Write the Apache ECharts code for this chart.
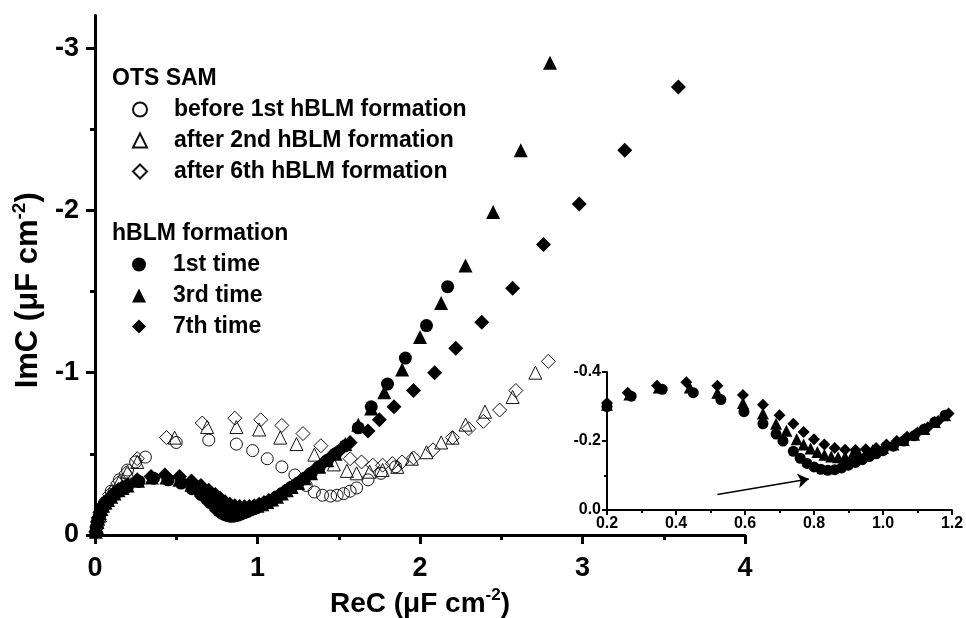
<!DOCTYPE html>
<html>
<head>
<meta charset="utf-8">
<script src="https://cdn.jsdelivr.net/npm/echarts@6/dist/echarts.min.js"></script>
<style>
html, body { margin: 0; padding: 0; background: #fff; }
#main { width: 966px; height: 618px; }
</style>
</head>
<body>
<div id="main"></div>
<script>
// OTS SAM (open symbols)
var reBefore1st = [0.01,0.03,0.06,0.10,0.15,0.20,0.25,0.31,0.50,0.70,0.87,0.97,1.06,1.15,1.23,1.30,1.35,1.40,1.45,1.49,1.53,1.57,1.61,1.68,1.76,1.85];
var imBefore1st = [-0.05,-0.12,-0.20,-0.27,-0.34,-0.40,-0.45,-0.48,-0.57,-0.585,-0.56,-0.52,-0.47,-0.42,-0.37,-0.305,-0.265,-0.245,-0.24,-0.245,-0.255,-0.27,-0.29,-0.34,-0.38,-0.42];
var reAfter2nd = [0.01,0.03,0.06,0.10,0.15,0.20,0.26,0.49,0.69,0.87,1.01,1.14,1.24,1.35,1.47,1.55,1.61,1.69,1.77,1.86,1.95,2.04,2.13,2.20,2.28,2.40,2.57,2.71];
var imAfter2nd = [-0.05,-0.12,-0.20,-0.27,-0.33,-0.39,-0.45,-0.60,-0.665,-0.665,-0.65,-0.60,-0.56,-0.495,-0.435,-0.395,-0.38,-0.39,-0.40,-0.42,-0.47,-0.51,-0.57,-0.60,-0.68,-0.76,-0.85,-1.00];
var reAfter6th = [0.02,0.05,0.09,0.14,0.19,0.26,0.44,0.66,0.86,1.02,1.15,1.28,1.39,1.49,1.57,1.64,1.71,1.77,1.83,1.89,1.96,2.08,2.20,2.30,2.39,2.49,2.59,2.79];
var imAfter6th = [-0.08,-0.17,-0.25,-0.32,-0.38,-0.47,-0.60,-0.69,-0.72,-0.71,-0.675,-0.625,-0.55,-0.51,-0.47,-0.45,-0.43,-0.43,-0.44,-0.45,-0.475,-0.525,-0.60,-0.655,-0.70,-0.77,-0.89,-1.07];

// hBLM formation (filled symbols)
var re1st = [0.005,0.01,0.015,0.02,0.03,0.04,0.05,0.065,0.08,0.10,0.12,0.145,0.17,0.20,0.27,0.36,0.45,0.53,0.597,0.652,0.69,0.71,0.74,0.76,0.78,0.80,0.82,0.84,0.86,0.88,0.90,0.92,0.94,0.96,0.98,1.00,1.03,1.06,1.09,1.12,1.15,1.18,1.21,1.25,1.29,1.33,1.38,1.43,1.48,1.54,1.62,1.70,1.80,1.91,2.04,2.17];
var im1st = [-0.02,-0.05,-0.08,-0.10,-0.13,-0.155,-0.175,-0.195,-0.21,-0.23,-0.25,-0.27,-0.285,-0.30,-0.33,-0.35,-0.34,-0.32,-0.285,-0.25,-0.22,-0.20,-0.17,-0.15,-0.135,-0.125,-0.118,-0.115,-0.117,-0.122,-0.13,-0.138,-0.146,-0.155,-0.163,-0.172,-0.185,-0.20,-0.215,-0.235,-0.255,-0.275,-0.295,-0.32,-0.35,-0.38,-0.42,-0.46,-0.50,-0.55,-0.66,-0.79,-0.93,-1.09,-1.29,-1.53];
var re3rd = [0.005,0.01,0.015,0.02,0.03,0.04,0.05,0.065,0.08,0.10,0.12,0.145,0.17,0.20,0.265,0.35,0.44,0.52,0.594,0.652,0.69,0.72,0.75,0.77,0.79,0.81,0.83,0.85,0.87,0.89,0.91,0.93,0.95,0.97,1.00,1.03,1.06,1.09,1.12,1.15,1.18,1.21,1.25,1.29,1.33,1.38,1.43,1.48,1.54,1.62,1.70,1.78,1.89,2.00,2.13,2.28,2.45,2.62,2.80];
var im3rd = [-0.02,-0.05,-0.08,-0.10,-0.135,-0.16,-0.18,-0.20,-0.215,-0.235,-0.255,-0.275,-0.29,-0.305,-0.335,-0.355,-0.355,-0.34,-0.31,-0.28,-0.25,-0.23,-0.205,-0.19,-0.178,-0.168,-0.16,-0.155,-0.153,-0.154,-0.157,-0.162,-0.167,-0.173,-0.18,-0.19,-0.203,-0.218,-0.235,-0.255,-0.275,-0.295,-0.32,-0.35,-0.38,-0.42,-0.46,-0.50,-0.56,-0.68,-0.78,-0.88,-1.02,-1.22,-1.43,-1.66,-1.99,-2.37,-2.91];
var re7th = [0.005,0.01,0.015,0.02,0.03,0.04,0.05,0.065,0.08,0.10,0.12,0.145,0.17,0.20,0.26,0.345,0.43,0.52,0.594,0.652,0.70,0.74,0.77,0.80,0.83,0.86,0.89,0.92,0.95,0.98,1.01,1.04,1.07,1.10,1.13,1.16,1.19,1.22,1.26,1.30,1.35,1.40,1.45,1.50,1.57,1.68,1.75,1.84,1.96,2.09,2.22,2.38,2.57,2.76,2.98,3.26,3.59];
var im7th = [-0.02,-0.05,-0.08,-0.105,-0.14,-0.165,-0.185,-0.205,-0.22,-0.24,-0.26,-0.28,-0.295,-0.31,-0.34,-0.36,-0.37,-0.36,-0.333,-0.305,-0.275,-0.25,-0.226,-0.205,-0.19,-0.18,-0.175,-0.174,-0.176,-0.18,-0.19,-0.20,-0.212,-0.225,-0.24,-0.258,-0.28,-0.30,-0.33,-0.36,-0.40,-0.44,-0.48,-0.515,-0.57,-0.64,-0.71,-0.79,-0.89,-1.00,-1.15,-1.31,-1.52,-1.79,-2.04,-2.37,-2.76];

var mainXMinor = [0.5, 1.5, 2.5, 3.5];
var mainYTicks = [-3, -2, -1, 0];
var mainYMinor = [-2.5, -1.5, -0.5];
var arrowFrom = [0.52, -0.045];
var arrowTo = [0.785, -0.09];

function pairs(xs, ys) {
    return xs.map(function (x, i) { return [x, ys[i]]; });
}

var font = 'Liberation Sans, Arial, sans-serif';
var openStyle = { color: 'transparent', borderColor: '#111', borderWidth: 1, opacity: 1 };
var fillStyle = { color: '#000', opacity: 1 };
var legendText = { fontSize: 23, fontWeight: 'bold', color: '#000', fontFamily: font, lineHeight: 23, padding: [0, 0, 0, 22] };
function titleRich(size, pad) {
    return { padding: pad, rich: {
        a: { fontSize: size, fontWeight: 'bold', color: '#000', fontFamily: font, lineHeight: size + 6 },
        s: { fontSize: Math.round(size * 0.62), fontWeight: 'bold', color: '#000', fontFamily: font, lineHeight: size + 6, verticalAlign: 'top' }
    } };
}

var myChart = echarts.init(document.getElementById('main'));
var option = {
    backgroundColor: '#fff',
    animation: false,
    textStyle: { fontFamily: font },
    grid: [
        { left: 95, top: 15.6, width: 650, height: 519.4, outerBoundsMode: 'none' },
        { left: 607, top: 372, width: 345, height: 138, outerBoundsMode: 'none' }
    ],
    graphic: [
        { type: 'text', left: 112, top: 67, style: { text: 'OTS SAM', font: 'bold 23px ' + font, fill: '#000' } },
        { type: 'text', left: 112, top: 222, style: { text: 'hBLM formation', font: 'bold 23px ' + font, fill: '#000' } }
    ],
    legend: [
        {
            orient: 'vertical', left: 127, top: 93, itemWidth: 14, itemHeight: 14, itemGap: 8,
            data: ['before 1st hBLM formation', 'after 2nd hBLM formation', 'after 6th hBLM formation'],
            textStyle: legendText
        },
        {
            orient: 'vertical', left: 127, top: 248, itemWidth: 14, itemHeight: 14, itemGap: 8,
            data: ['1st time', '3rd time', '7th time'],
            textStyle: legendText
        }
    ],
    xAxis: [
        {
            type: 'value', gridIndex: 0, position: 'bottom', min: 0, max: 4, interval: 1,
            name: '{a|ReC (μF cm}{s|-2}{a|)}', nameLocation: 'middle', nameGap: 51,
            nameTextStyle: titleRich(28, 0),
            axisLine: { lineStyle: { color: '#000', width: 3 } },
            axisTick: { length: 9, lineStyle: { color: '#000', width: 3 } },
            axisLabel: { margin: 20, fontSize: 27, fontWeight: 'bold', color: '#000', fontFamily: font },
            splitLine: { show: false }
        },
        {
            type: 'value', gridIndex: 0, position: 'bottom', min: 0, max: 4,
            axisLine: { show: false },
            axisTick: { length: 5, customValues: mainXMinor, lineStyle: { color: '#000', width: 3 } },
            axisLabel: { show: false },
            splitLine: { show: false }
        },
        {
            type: 'value', gridIndex: 1, position: 'bottom', min: 0.2, max: 1.2, interval: 0.2,
            axisLine: { lineStyle: { color: '#000', width: 2 } },
            axisTick: { length: 5, lineStyle: { color: '#000', width: 2 } },
            minorTick: { show: true, splitNumber: 2, length: 3, lineStyle: { color: '#000', width: 2 } },
            axisLabel: { margin: 6, fontSize: 16, fontWeight: 'bold', color: '#000', fontFamily: font,
                formatter: function (v) { return v.toFixed(1); } },
            splitLine: { show: false }
        }
    ],
    yAxis: [
        {
            type: 'value', gridIndex: 0, position: 'left', min: -3.2, max: 0, inverse: true,
            name: '{a|ImC (μF cm}{s|-2}{a|)}', nameLocation: 'middle', nameGap: 47,
            nameTextStyle: titleRich(31, [0, 30, 0, 0]),
            axisLine: { lineStyle: { color: '#000', width: 3 } },
            axisTick: { length: 9, customValues: mainYTicks, lineStyle: { color: '#000', width: 3 } },
            axisLabel: { margin: 16, customValues: mainYTicks, fontSize: 27, fontWeight: 'bold', color: '#000', fontFamily: font },
            splitLine: { show: false }
        },
        {
            type: 'value', gridIndex: 0, position: 'left', min: -3.2, max: 0, inverse: true,
            axisLine: { show: false },
            axisTick: { length: 5, customValues: mainYMinor, lineStyle: { color: '#000', width: 3 } },
            axisLabel: { show: false },
            splitLine: { show: false }
        },
        {
            type: 'value', gridIndex: 1, position: 'left', min: -0.4, max: 0, interval: 0.2, inverse: true,
            axisLine: { lineStyle: { color: '#000', width: 2 } },
            axisTick: { length: 5, lineStyle: { color: '#000', width: 2 } },
            minorTick: { show: true, splitNumber: 2, length: 3, lineStyle: { color: '#000', width: 2 } },
            axisLabel: { margin: 6, fontSize: 16, fontWeight: 'bold', color: '#000', fontFamily: font,
                formatter: function (v) { return v.toFixed(1); } },
            splitLine: { show: false }
        }
    ],
    series: [
        { name: 'before 1st hBLM formation', type: 'scatter', xAxisIndex: 0, yAxisIndex: 0, symbol: 'circle', symbolSize: 12, itemStyle: openStyle, data: pairs(reBefore1st, imBefore1st) },
        { name: 'after 2nd hBLM formation', type: 'scatter', xAxisIndex: 0, yAxisIndex: 0, symbol: 'triangle', symbolSize: 13, itemStyle: openStyle, data: pairs(reAfter2nd, imAfter2nd) },
        { name: 'after 6th hBLM formation', type: 'scatter', xAxisIndex: 0, yAxisIndex: 0, symbol: 'diamond', symbolSize: 14, itemStyle: openStyle, data: pairs(reAfter6th, imAfter6th) },
        { name: '1st time', type: 'scatter', xAxisIndex: 0, yAxisIndex: 0, symbol: 'circle', symbolSize: 13, itemStyle: fillStyle, data: pairs(re1st, im1st) },
        { name: '3rd time', type: 'scatter', xAxisIndex: 0, yAxisIndex: 0, symbol: 'triangle', symbolSize: 14, itemStyle: fillStyle, data: pairs(re3rd, im3rd) },
        { name: '7th time', type: 'scatter', xAxisIndex: 0, yAxisIndex: 0, symbol: 'diamond', symbolSize: 15, itemStyle: fillStyle, data: pairs(re7th, im7th) },
        // inset: same filled data, zoomed in
        { name: '1st time', type: 'scatter', xAxisIndex: 2, yAxisIndex: 2, symbol: 'circle', symbolSize: 11, itemStyle: fillStyle, data: pairs(re1st, im1st) },
        { name: '3rd time', type: 'scatter', xAxisIndex: 2, yAxisIndex: 2, symbol: 'triangle', symbolSize: 12, itemStyle: fillStyle, data: pairs(re3rd, im3rd) },
        { name: '7th time', type: 'scatter', xAxisIndex: 2, yAxisIndex: 2, symbol: 'diamond', symbolSize: 12, itemStyle: fillStyle, data: pairs(re7th, im7th),
          markLine: {
              silent: true, symbol: ['none', 'arrow'], symbolSize: 11,
              lineStyle: { color: '#000', width: 1.5, type: 'solid' },
              label: { show: false },
              data: [[{ coord: arrowFrom }, { coord: arrowTo }]]
          }
        }
    ]
};
myChart.setOption(option);
</script>
</body>
</html>
